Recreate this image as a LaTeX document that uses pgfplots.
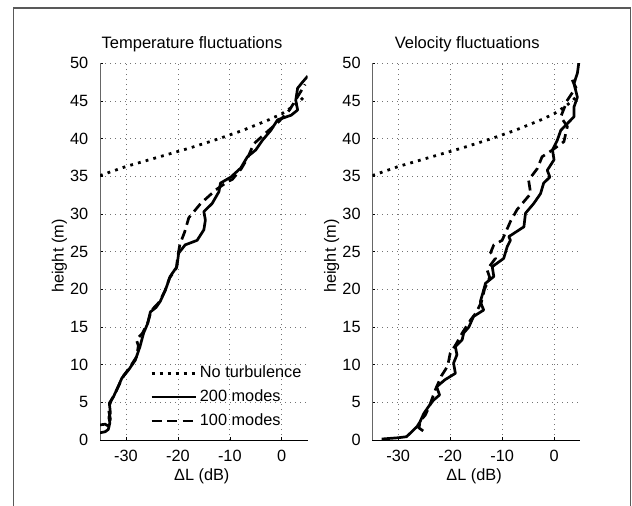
\documentclass[border=0pt]{standalone}
\usepackage{fontspec}
\setmainfont{Liberation Sans}
\usepackage{pgfplots}
\pgfplotsset{compat=1.18}
\pgfplotsset{
  nt/.style={black, line width=2.8pt, dash pattern=on 2.8pt off 5.2pt},
  mtwo/.style={black, line width=2.7pt, line join=round},
  mone/.style={black, line width=2.7pt, dash pattern=on 10pt off 5.5pt},
  myax/.style={
    width=207.7pt, height=376.7pt, scale only axis,
    xmin=-35, xmax=5, ymin=0, ymax=50,
    xtick={-30,-20,-10,0}, ytick={0,5,...,50},
    axis x line*=bottom, axis y line*=left,
    axis line style={line width=1pt},
    y axis line style={black!60},
    tick align=inside, major tick length=3pt,
    tick style={black, line width=0.6pt},
    grid=major,
    major grid style={black!55, line width=0.7pt, dash pattern=on 0.8pt off 4.2pt},
    font=\fontsize{16}{19}\selectfont,
    /pgf/number format/assume math mode=true,
    tick label style={font=\fontsize{16.3}{19}\selectfont},
    yticklabel style={xshift=-6.2pt},
    xticklabel style={anchor=base, yshift=-21pt},
    xlabel={ΔL (dB)},
    xlabel style={at={(0.49,-0.1088)}, anchor=base, font=\fontsize{16.3}{19}\selectfont},
    ylabel={height (m)},
    ylabel style={at={(-0.1757,0.488)}, anchor=base, font=\fontsize{16.3}{19}\selectfont},
    every axis title shift=0pt,
    title style={anchor=base, font=\fontsize{16.5}{19}\selectfont},
  }
}
\begin{document}
\fontsize{16}{19}\selectfont
\begin{tikzpicture}[x=1pt,y=1pt]
\path[use as bounding box] (0,0) rectangle (632,-506);
\draw[black!65, line width=1.3pt] (13.3,-512) -- (13.3,-8) -- (630.5,-8) -- (630.5,-512);

\begin{axis}[myax, at={(100pt,-440pt)}, anchor=south west,
  title={Temperature fluctuations}, title style={at={(0.443,1.0398)}},
  legend style={draw=none, fill=none, at={(axis cs:-25.35,10.5)}, anchor=north west,
    inner sep=0pt, row sep=0pt,
    nodes={inner xsep=2.8pt, inner ysep=4.25pt, text height=12pt, text depth=3.5pt},
    font=\fontsize{16.3}{19}\selectfont},
  legend cell align=left,
  legend image code/.code={\draw[#1] (0pt,0pt) -- (44pt,0pt);}]
\addplot[nt] coordinates {(-35,35.1) (-32.5,35.7) (-30,36.3) (-27.5,36.8) (-25,37.3) (-22.5,37.8) (-20,38.3) (-17.5,38.8) (-15,39.35) (-12.5,39.9) (-10,40.5) (-7.5,41.1) (-5,41.8) (-2.5,42.5) (0,43.3) (2,44.2) (3.5,45.0) (4.5,45.7)};
\addlegendentry{No turbulence}
\addplot[mtwo] coordinates {(-35,0.95) (-34,1.1) (-33.4,1.4) (-33.1,2.3) (-33.3,3.0) (-33.0,3.6) (-33.2,4.9) (-32.4,5.75) (-31.9,6.5) (-31.5,7.1) (-30.8,8.2) (-29.5,9.3) (-28.2,10.6) (-27.3,12.4) (-26.6,14.2) (-25.8,15.5) (-25.3,17.0) (-24.2,17.6) (-23.4,18.4) (-22.4,19.9) (-21.5,21.7) (-20.2,23.0) (-19.85,24.8) (-18.6,25.9) (-16.3,26.5) (-15.0,27.9) (-14.7,29.2) (-15.0,30.3) (-13.4,31.4) (-12.1,32.95) (-11.8,34.1) (-9.8,34.9) (-7.9,36.1) (-6.6,37.6) (-5.0,38.5) (-3.7,39.8) (-2.1,41.1) (-0.8,42.5) (1.8,43.1) (3.06,43.8) (2.7,45.1) (3.06,46.7) (4.0,47.5) (5.0,48.3)};
\addlegendentry{200 modes}
\addplot[mone] coordinates {(-35,2.0) (-34,2.1) (-33.3,1.8) (-33.0,2.8) (-33.4,4.2) (-32.8,5.3) (-32.0,6.3) (-31.2,7.5) (-30.4,8.6) (-29.3,9.6) (-28.0,11.0) (-27.6,12.5) (-28.0,13.3) (-26.8,14.2) (-25.8,15.6) (-25.1,17.2) (-23.6,18.3) (-22.5,19.8) (-21.6,21.5) (-20.3,22.8) (-20.0,24.5) (-19.6,26.0) (-18.7,27.6) (-17.9,29.5) (-15.6,31.4) (-12.7,33.2) (-10.4,34.3) (-9.5,34.6) (-7.8,36.0) (-6.6,37.4) (-5.4,39.3) (-3,40.8) (-0.5,42.3) (1.5,43.8) (3,45.5) (4.5,47.2)};
\addlegendentry{100 modes}
\end{axis}

\begin{axis}[myax, at={(372.3pt,-440pt)}, anchor=south west,
  title={Velocity fluctuations}, title style={at={(0.457,1.0398)}}]
\addplot[nt] coordinates {(-35,35.1) (-32.5,35.7) (-30,36.3) (-27.5,36.8) (-25,37.3) (-22.5,37.8) (-20,38.3) (-17.5,38.8) (-15,39.35) (-12.5,39.9) (-10,40.5) (-7.5,41.1) (-5,41.8) (-2.5,42.5) (0,43.3) (2,44.2) (3.5,45.0) (4.5,45.7)};
\addplot[mtwo] coordinates {(-33.2,0.13) (-30,0.3) (-28.4,0.44) (-27.4,1.1) (-26.4,1.77) (-25.8,2.43) (-25.1,3.5) (-24.2,4.4) (-23.2,5.3) (-22.05,5.97) (-22.6,7.07) (-21.0,8.0) (-19.0,8.85) (-19.35,10.2) (-18.7,11.3) (-19.0,12.4) (-17.7,13.3) (-17.4,14.2) (-16.4,15.0) (-15.5,16.4) (-13.55,17.25) (-14.2,18.35) (-13.55,19.9) (-13.2,20.8) (-11.6,21.7) (-11.9,23.0) (-9.7,24.1) (-9.0,25.7) (-8.4,26.5) (-8.7,27.0) (-5.8,28.3) (-5.5,30.1) (-3.9,31.4) (-2.6,32.7) (-2.0,34.1) (-0.8,34.9) (-1.3,35.8) (0.0,37.2) (-0.3,38.5) (0.63,39.8) (1.3,41.1) (2.56,42.0) (3.84,42.9) (3.84,44.2) (4.5,45.5) (3.84,47.3) (4.5,48.7) (4.8,50.2)};
\addplot[mone] coordinates {(-25.2,1.2) (-26.0,1.6) (-25.8,2.5) (-24.8,3.3) (-24.0,4.5) (-22.9,6.6) (-21.7,8.5) (-20.5,9.8) (-20.0,11.5) (-18.8,12.8) (-17.6,14.3) (-16.0,16.0) (-15.0,16.9) (-14.0,18.3) (-13.4,20.0) (-12.4,21.6) (-12.9,22.6) (-11.3,24.1) (-12.2,24.9) (-11.6,25.9) (-10.0,26.5) (-8.4,29.0) (-7.1,30.6) (-4.5,32.7) (-4.9,34.5) (-3.2,36.05) (-2.3,37.6) (-0.3,38.5) (1.9,39.6) (2.56,41.6) (1.3,42.9) (2.56,45.1) (4.2,46.8) (3.5,47.8)};
\end{axis}
\end{tikzpicture}
\end{document}
